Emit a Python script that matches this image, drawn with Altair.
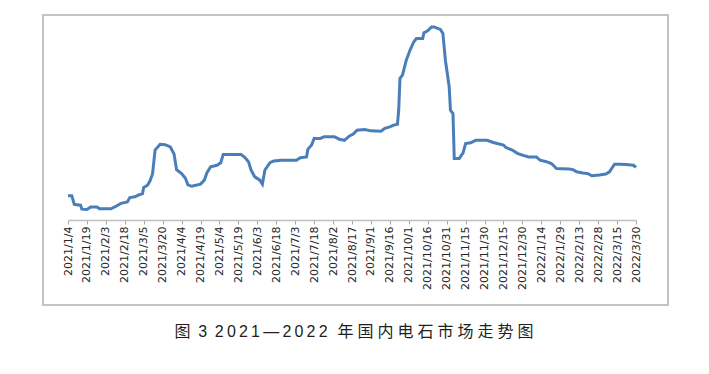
import altair as alt
import pandas as pd

# day offsets from 2021/1/4 and price readings (yuan/t, estimated)
days = [0, 3, 5, 10, 11, 15, 18, 23, 25, 34, 37, 42, 47, 49, 53, 56, 59, 60, 63, 65,
        67, 69, 73, 77, 81, 84, 86, 90, 93, 95, 98, 105, 108, 110, 113, 118, 121, 123, 137, 140,
        143, 145, 148, 152, 154, 156, 160, 163, 169, 181, 184, 189, 190, 193, 195, 200, 203, 211, 215, 219,
        223, 226, 229, 235, 240, 248, 251, 255, 258, 261, 262, 263, 265, 268, 271, 274, 276, 281, 282, 285,
        288, 290, 295, 297, 299, 302, 303, 305, 306, 310, 313, 315, 319, 323, 332, 337, 340, 345, 347, 352,
        356, 360, 365, 371, 374, 379, 383, 387, 397, 400, 403, 408, 412, 415, 421, 426, 429, 433, 437, 442,
        448, 450]
price = [4370, 4370, 4130, 4110, 4000, 3990, 4060, 4060, 4010, 4010, 4060, 4160, 4200, 4320, 4340, 4390, 4430, 4600, 4660, 4780,
         4980, 5630, 5790, 5780, 5720, 5520, 5090, 4980, 4850, 4670, 4630, 4690, 4800, 5000, 5170, 5210, 5280, 5510, 5510, 5430,
         5310, 5080, 4890, 4800, 4690, 5080, 5280, 5330, 5350, 5350, 5420, 5440, 5650, 5770, 5950, 5950, 6000, 6000, 5930, 5900,
         6020, 6070, 6180, 6200, 6160, 6150, 6230, 6270, 6320, 6340, 6730, 7610, 7700, 8110, 8390, 8620, 8710, 8710, 8870, 8920,
         9030, 9030, 8960, 8850, 8110, 7380, 6730, 6640, 5400, 5400, 5550, 5810, 5830, 5900, 5900, 5840, 5810, 5770, 5700, 5630,
         5540, 5490, 5440, 5440, 5350, 5310, 5260, 5120, 5110, 5090, 5030, 5000, 4980, 4920, 4940, 4970, 5030, 5240, 5240, 5230,
         5210, 5150]

tick_days = list(range(0, 451, 15))
tick_labels = ["2021/1/4", "2021/1/19", "2021/2/3", "2021/2/18", "2021/3/5", "2021/3/20",
               "2021/4/4", "2021/4/19", "2021/5/4", "2021/5/19", "2021/6/3", "2021/6/18",
               "2021/7/3", "2021/7/18", "2021/8/2", "2021/8/17", "2021/9/1", "2021/9/16",
               "2021/10/1", "2021/10/16", "2021/10/31", "2021/11/15", "2021/11/30",
               "2021/12/15", "2021/12/30", "2022/1/14", "2022/1/29", "2022/2/13",
               "2022/2/28", "2022/3/15", "2022/3/30"]

caption_head = "图 3"
caption_years = "2021—2022"
caption_tail = "年国内电石市场走势图"
caption = (caption_head.replace(" ", " \u2009") + " \u2009"
           + "\u2009".join(caption_years) + " \u2004"
           + "\u2005".join(caption_tail))

df = pd.DataFrame({"day": days, "price": price})
label_expr = "[" + ",".join("'" + s + "'" for s in tick_labels) + "][round(datum.value/15)]"

line = alt.Chart(df).mark_line(color="#4a7ebb", strokeWidth=3, clip=False).encode(
    x=alt.X("day:Q",
            scale=alt.Scale(domain=[0, 450], nice=False, zero=False),
            axis=alt.Axis(values=tick_days, labelExpr=label_expr, labelAngle=270,
                          title=None, grid=False, domainColor="#bfbfbf", domainWidth=1.5,
                          tickColor="#a6a6a6", tickSize=4, labelFont="DejaVu Sans",
                          labelFontSize=11, labelColor="#262626", labelPadding=2,
                          labelOverlap=False, labelFlush=False)),
    y=alt.Y("price:Q", scale=alt.Scale(domain=[3700, 9220], nice=False, zero=False), axis=None),
)

one = pd.DataFrame({"a": [0]})
border = alt.Chart(one).mark_rect(filled=False, stroke="#c4c4c4", strokeWidth=2).encode(
    x=alt.value(-25), x2=alt.value(600), y=alt.value(-5), y2=alt.value(285)
)

cap = alt.Chart(one).mark_text(text=caption, font="Liberation Sans, Noto Sans CJK SC", fontSize=16,
                               color="#231f20", align="center", baseline="middle").encode(
    x=alt.value(286), y=alt.value(312)
)

chart = alt.layer(border, line, cap).properties(
    width=568, height=200,
    autosize=alt.AutoSizeParams(type="none"),
    padding={"left": 60, "top": 12, "right": 65, "bottom": 146},
).configure_view(stroke=None)

chart.save("out.html", embed_options={"renderer": "svg", "actions": False})
